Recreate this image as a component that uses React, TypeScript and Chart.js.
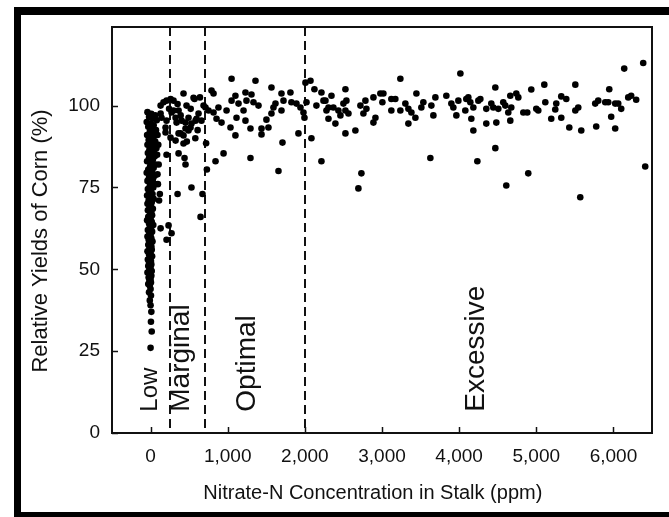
import React, { useEffect, useRef } from 'react';
import { Chart, registerables } from 'chart.js';

Chart.register(...registerables);

// ---- axis / annotation values ----
const xTicks = [0, 1000, 2000, 3000, 4000, 5000, 6000];
const yTicks = [0, 25, 50, 75, 100];
const boundaries = [250, 700, 2000];
const zoneLabels = ['Low', 'Marginal', 'Optimal', 'Excessive'];
const zoneLabelX = [80, 500, 1360, 4320];
const zoneLabelY = 6.5;
const xTitle = 'Nitrate-N Concentration in Stalk (ppm)';
const yTitle = 'Relative Yields of Corn (%)';

// ---- data: [nitrate ppm, relative yield %] ----
const lowZone: [number, number][] = [
  [-40, 98], [10, 97.5], [60, 97], [-20, 96.5], [30, 96], [80, 95.5], [-50, 95], [0, 94.5], [40, 94], [-30, 93.5],
  [20, 93], [70, 92.5], [-10, 92], [50, 91.5], [-45, 91], [10, 90.5], [35, 90], [-25, 89.5], [60, 89], [0, 88.5],
  [-40, 88], [25, 87.5], [75, 87], [-15, 86.5], [45, 86], [-35, 85.5], [5, 85], [55, 84.5], [-20, 84], [30, 83.5],
  [-45, 83], [15, 82.5], [65, 82], [-5, 81.5], [40, 81], [-30, 80.5], [20, 80], [-50, 79.5], [0, 79], [50, 78.5],
  [-20, 78], [30, 77.5], [-40, 77], [10, 76.5], [60, 76], [-10, 75.5], [35, 75], [-35, 74.5], [5, 74], [-20, 73.5],
  [25, 73], [-45, 72.5], [0, 72], [40, 71.5], [-25, 71], [15, 70.5], [-40, 70], [5, 69.5], [-15, 69], [30, 68.5],
  [-35, 68], [10, 67.5], [-5, 67], [20, 66.5], [-30, 66], [0, 65.5], [-45, 65], [15, 64.5], [-20, 64], [35, 63.5],
  [-10, 63], [5, 62.5], [-35, 62], [20, 61.5], [-15, 61], [0, 60.5], [-40, 60], [10, 59.5], [-25, 59], [25, 58.5],
  [-5, 58], [-30, 57.5], [10, 57], [-15, 56.5], [15, 56], [-40, 55.5], [0, 55], [-20, 54.5], [20, 54], [-10, 53.5],
  [-35, 53], [5, 52.5], [-20, 52], [10, 51.5], [-30, 51], [0, 50.5], [-15, 50], [15, 49.5], [-40, 49], [-5, 48.5],
  [10, 48], [-25, 47.5], [0, 47], [-15, 46.5], [5, 46], [-30, 45.5], [-10, 45], [0, 44], [-20, 43], [5, 42],
  [-10, 40.5], [0, 39], [10, 37], [5, 34], [15, 31], [0, 26],
  [90, 91], [100, 88], [85, 85], [105, 82], [90, 79], [95, 76], [120, 73], [110, 71],
];

const marginalZone: [number, number][] = [
  [130, 100], [168, 101], [207, 101.5], [260, 102], [298, 101.5], [427, 103.7], [570, 102], [466, 100], [363, 98.5], [324, 96.3],
  [402, 95.4], [492, 96.3], [596, 96], [531, 94.5], [453, 93], [389, 91.5], [324, 89.3], [259, 90.2], [194, 93.3], [207, 95.4],
  [142, 96.3], [272, 97.9], [622, 97.6], [660, 95.4], [492, 92.4], [427, 88.4], [557, 102.4], [687, 100], [298, 98.5], [130, 97.6],
  [337, 94.8], [453, 94.8], [518, 93.3], [583, 95.4], [363, 91.5], [427, 90.9], [194, 91.8], [240, 99], [350, 100.5], [520, 99],
  [640, 102.5], [580, 90], [610, 92.5], [470, 89], [390, 97],
  [207, 85], [363, 85.4], [453, 82], [440, 84], [350, 73], [530, 75], [673, 73], [648, 66], [233, 63.4], [207, 59],
  [272, 61], [130, 62.5],
];

const optimalZone: [number, number][] = [
  [790, 104.6], [816, 103.7], [712, 99.4], [751, 98.5], [816, 97.9], [880, 99.4], [855, 96], [920, 94.8], [985, 98.5], [1050, 108.2],
  [1050, 101.5], [1100, 103], [1140, 100.6], [1114, 96.3], [1036, 93.3], [1100, 90.9], [1230, 104], [1243, 101.5], [1308, 103.4], [1334, 101],
  [1205, 98.5], [1230, 95.4], [1295, 93], [1360, 107.6], [1399, 100], [1438, 93], [1438, 91.2], [1502, 95.7], [1528, 93.3], [1567, 105.5],
  [1567, 97.6], [1593, 99.4], [1619, 100.6], [1697, 103.7], [1723, 101.5], [1697, 98.5], [1813, 104], [1826, 101], [1891, 100.6], [1943, 99.4],
  [1982, 97.9], [1995, 96.3],
  [720, 88.5], [730, 80.5], [842, 83], [946, 85.4], [1295, 84], [1658, 80], [1710, 88.7], [1917, 91.5],
];

const excessiveZone: [number, number][] = [
  [2008, 107], [2021, 101], [2073, 107.6], [2124, 105], [2150, 100], [2215, 104], [2267, 101.5], [2306, 99.4], [2345, 103], [2306, 96],
  [2396, 94.5], [2435, 98.5], [2526, 105], [2539, 101.5], [2241, 101.5], [2280, 98.5], [2370, 99.4], [2461, 97], [2500, 100.6], [2526, 98.5],
  [2565, 97.6], [2655, 92.4], [2720, 100], [2785, 101.5], [2798, 99], [2759, 97.6], [2889, 102.5], [2889, 94.8], [2979, 103.7], [3018, 103.7],
  [3005, 101], [2915, 96.3], [3238, 108.2], [3121, 102], [3173, 102], [3121, 98.5], [3238, 98.5], [3303, 100.6], [3342, 99], [3381, 97.9],
  [3342, 94.5], [3446, 103.7], [3433, 96.3], [3510, 99.4], [3536, 101], [3640, 100], [3692, 102.5], [3666, 97], [3834, 103], [3899, 100.6],
  [3925, 99.4], [3964, 97], [3990, 101.5], [4016, 109.8], [4080, 98.5], [4093, 102], [4119, 102.5], [4145, 101], [4158, 96], [4184, 92.4],
  [4184, 99.4], [4249, 101.5], [4275, 102], [4352, 94.5], [4352, 99], [4469, 105.5], [4417, 100.6], [4443, 99.4], [4508, 99], [4572, 101],
  [4598, 100], [4637, 97.9], [4663, 103], [4663, 95.4], [4676, 99.4], [4741, 103.7], [4767, 102.5], [4482, 94.8], [4832, 97.9], [4883, 97.9],
  [4935, 104.9], [5000, 99], [5026, 98.5], [5104, 106.4], [5117, 101], [5194, 96], [5246, 98.8], [5259, 100.6], [5324, 96.3], [5324, 102.8],
  [5389, 102], [5428, 93.3], [5506, 106.4], [5506, 98.5], [5544, 99.4], [5583, 92.4], [5764, 100.6], [5803, 101.5], [5777, 93.6], [5894, 101],
  [5933, 101], [5946, 105], [5971, 96.6], [6023, 100.6], [6062, 100.6], [6023, 93], [6101, 99], [6140, 111.3], [6192, 102.5], [6230, 103],
  [6295, 101.8], [6386, 113],
  [2085, 90], [2215, 83], [2526, 91.5], [2733, 79.3], [2694, 74.7], [3627, 84], [4236, 83], [4469, 87], [4611, 75.6], [4896, 79.3],
  [5570, 72], [6412, 81.4],
];

const FONT = '"Liberation Sans", Arial, Helvetica, sans-serif';
const INK = '#111';

const overlayPlugin = {
  id: 'overlay',
  beforeDatasetsDraw(chart: any) {
    const { ctx, chartArea: a, scales } = chart;
    const x = scales.x;
    ctx.save();
    ctx.strokeStyle = INK;
    ctx.lineWidth = 2;
    ctx.setLineDash([9, 5]);
    boundaries.forEach((b) => {
      const px = Math.round(x.getPixelForValue(b));
      ctx.beginPath();
      ctx.moveTo(px, a.top);
      ctx.lineTo(px, a.bottom);
      ctx.stroke();
    });
    ctx.restore();
  },
  afterDatasetsDraw(chart: any) {
    const { ctx, chartArea: a, scales } = chart;
    const x = scales.x;
    const y = scales.y;
    ctx.save();
    ctx.strokeStyle = INK;
    ctx.lineWidth = 2;
    ctx.strokeRect(a.left, a.top, a.right - a.left, a.bottom - a.top);
    ctx.lineWidth = 1.5;
    xTicks.forEach((v) => {
      const px = Math.round(x.getPixelForValue(v)) + 0.5;
      ctx.beginPath();
      ctx.moveTo(px, a.bottom);
      ctx.lineTo(px, a.bottom - 6);
      ctx.stroke();
    });
    yTicks.forEach((v) => {
      const py = Math.round(y.getPixelForValue(v)) + 0.5;
      ctx.beginPath();
      ctx.moveTo(a.left, py);
      ctx.lineTo(a.left + 6, py);
      ctx.stroke();
    });
    ctx.fillStyle = INK;
    ctx.textAlign = 'left';
    ctx.textBaseline = 'alphabetic';
    zoneLabels.forEach((t, i) => {
      const px = x.getPixelForValue(zoneLabelX[i]);
      const py = y.getPixelForValue(zoneLabelY);
      ctx.save();
      ctx.translate(px, py);
      ctx.rotate(-Math.PI / 2);
      ctx.font = `${i === 0 ? 24 : 28}px ${FONT}`;
      ctx.fillText(t, 0, 0);
      ctx.restore();
    });
    // axis titles
    ctx.textAlign = 'center';
    ctx.textBaseline = 'middle';
    ctx.font = `20px ${FONT}`;
    ctx.fillText(xTitle, a.left + (a.right - a.left) * 0.483, 493);
    ctx.save();
    ctx.translate(41, a.top + (a.bottom - a.top) * 0.527);
    ctx.rotate(-Math.PI / 2);
    ctx.font = `22px ${FONT}`;
    ctx.fillText(yTitle, 0, 0);
    ctx.restore();
    ctx.restore();
  },
};

const toPoints = (arr: [number, number][]) => arr.map(([x, y]) => ({ x, y }));

export default function App() {
  const ref = useRef<HTMLCanvasElement>(null);
  useEffect(() => {
    if (!ref.current) return;
    const dot = {
      pointRadius: 3.3,
      pointBackgroundColor: '#000',
      pointBorderWidth: 0,
      pointHoverRadius: 3.3,
      showLine: false,
    };
    const chart = new Chart(ref.current, {
      type: 'scatter',
      data: {
        datasets: [
          { label: 'Low', data: toPoints(lowZone), ...dot },
          { label: 'Marginal', data: toPoints(marginalZone), ...dot },
          { label: 'Optimal', data: toPoints(optimalZone), ...dot },
          { label: 'Excessive', data: toPoints(excessiveZone), ...dot },
        ],
      },
      options: {
        animation: false,
        responsive: false,
        devicePixelRatio: 1,
        layout: { padding: { left: 0, top: 27, right: 17, bottom: 0 } },
        plugins: { legend: { display: false }, tooltip: { enabled: false } },
        scales: {
          x: {
            type: 'linear',
            min: -500,
            max: 6500,
            afterBuildTicks: (s: any) => {
              s.ticks = xTicks.map((v) => ({ value: v }));
            },
            afterFit: (s: any) => {
              s.height = 84;
            },
            grid: { display: false, drawTicks: false },
            border: { display: false },
            ticks: {
              autoSkip: false,
              maxRotation: 0,
              padding: 12,
              color: INK,
              font: { family: FONT, size: 19 },
              callback: (v: any) => Number(v).toLocaleString('en-US'),
            },
            title: { display: false },
          },
          y: {
            type: 'linear',
            min: 0,
            max: 124,
            afterBuildTicks: (s: any) => {
              s.ticks = yTicks.map((v) => ({ value: v }));
            },
            afterFit: (s: any) => {
              s.width = 112;
            },
            grid: { display: false, drawTicks: false },
            border: { display: false },
            ticks: {
              autoSkip: false,
              padding: 12,
              color: INK,
              font: { family: FONT, size: 19 },
            },
            title: { display: false },
          },
        },
      },
      plugins: [overlayPlugin],
    } as any);
    return () => chart.destroy();
  }, []);

  return (
    <div style={{ position: 'fixed', left: 0, top: 0, width: 669, height: 517, background: '#fff', overflow: 'hidden' }}>
      <canvas ref={ref} width={669} height={517} style={{ position: 'absolute', left: 0, top: 0, width: 669, height: 517 }} />
      <div style={{ position: 'absolute', left: 14, top: 7, width: 655, height: 8, background: '#000' }} />
      <div style={{ position: 'absolute', left: 14, top: 7, width: 7, height: 510, background: '#000' }} />
      <div style={{ position: 'absolute', left: 14, top: 512, width: 655, height: 5, background: '#000' }} />
    </div>
  );
}
